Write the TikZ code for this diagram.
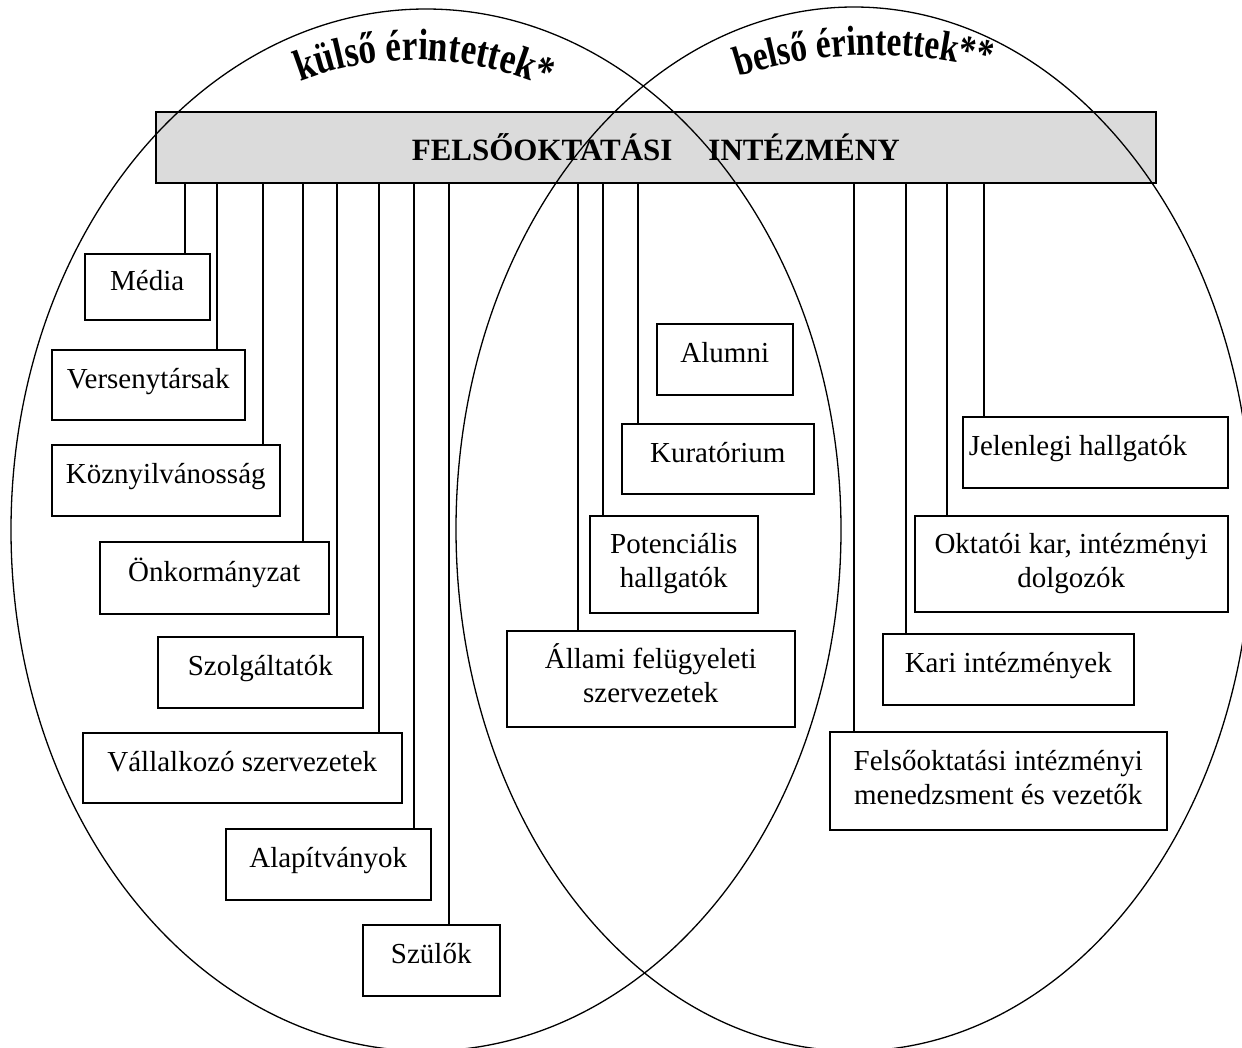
\documentclass[tikz,border=0pt]{standalone}
\usepackage{fontspec}
\setmainfont{Liberation Serif}
\newfontfamily\ivfont[FakeStretch=0.8]{Liberation Serif}
\usetikzlibrary{decorations.text}

\begin{document}
\begin{tikzpicture}[x=1pt,y=-1pt]
	\tikzstyle{egy}=[draw,line width=1.5pt,fill=white,anchor=north west,inner sep=0pt,font=\fontsize{29}{34}\selectfont,text height=20pt,text depth=13pt]
	\tikzstyle{ketto}=[egy,align=center,text height=54pt,text depth=7pt]
	\tikzstyle{sav}=[draw,line width=1.5pt,fill=black!14,anchor=north west,inner sep=0pt,font=\fontsize{31}{34}\selectfont\bfseries]
	\tikzstyle{vonal}=[line width=1.2pt]
	\tikzstyle{ellipszis}=[line width=1.3pt]
	\useasboundingbox (0,0) rectangle (1242,1047);
	\node[sav,minimum width=1000pt,minimum height=71pt] (F) at (155,111){FELSŐOKTATÁSI\hspace{36pt}INTÉZMÉNY};
	% kulso erintettek
	\node[egy,minimum width=125pt,minimum height=66pt] (Me) at (84,253){Média};
	\node[egy,minimum width=193pt,minimum height=70pt] (Ve) at (51,349){Versenytársak};
	\node[egy,minimum width=228pt,minimum height=71pt] (Ko) at (51,444){Köznyilvánosság};
	\node[egy,minimum width=229pt,minimum height=72pt] (On) at (99,541){Önkormányzat};
	\node[egy,minimum width=205pt,minimum height=71pt] (Sz) at (157,636){Szolgáltatók};
	\node[egy,minimum width=319pt,minimum height=70pt] (Va) at (82,732){Vállalkozó szervezetek};
	\node[egy,minimum width=205pt,minimum height=71pt] (Al) at (225,828){Alapítványok};
	\node[egy,minimum width=137pt,minimum height=71pt] (Su) at (362,924){Szülők};
	% belso erintettek
	\node[egy,minimum width=136pt,minimum height=71pt] (Alu) at (656,323){Alumni};
	\node[egy,minimum width=192pt,minimum height=70pt] (Ku) at (621,423){Kuratórium};
	\node[ketto,minimum width=168pt,minimum height=97pt] (Po) at (589,515){Potenciális\\hallgatók};
	\node[ketto,minimum width=288pt,minimum height=96pt] (All) at (506,630){Állami felügyeleti\\szervezetek};
	\node[egy,minimum width=265pt,minimum height=71pt,text width=253pt,align=flush left] (Je) at (962,416){Jelenlegi hallgatók};
	\node[ketto,minimum width=313pt,minimum height=96pt] (Ok) at (914,515){Oktatói kar, intézményi\\dolgozók};
	\node[egy,minimum width=251pt,minimum height=71pt] (Ka) at (882,633){Kari intézmények};
	\node[ketto,minimum width=337pt,minimum height=98pt] (Fe) at (829,731){Felsőoktatási intézményi\\menedzsment és vezetők};
	% vonalak
	\draw[vonal] (F.south -| 185,0) -- (185,0 |- Me.north);
	\draw[vonal] (F.south -| 217,0) -- (217,0 |- Ve.north);
	\draw[vonal] (F.south -| 263,0) -- (263,0 |- Ko.north);
	\draw[vonal] (F.south -| 303,0) -- (303,0 |- On.north);
	\draw[vonal] (F.south -| 337,0) -- (337,0 |- Sz.north);
	\draw[vonal] (F.south -| 379,0) -- (379,0 |- Va.north);
	\draw[vonal] (F.south -| 414,0) -- (414,0 |- Al.north);
	\draw[vonal] (F.south -| 449,0) -- (449,0 |- Su.north);
	\draw[vonal] (F.south -| 578,0) -- (578,0 |- All.north);
	\draw[vonal] (F.south -| 603,0) -- (603,0 |- Po.north);
	\draw[vonal] (F.south -| 638,0) -- (638,0 |- Ku.north);
	\draw[vonal] (F.south -| 854,0) -- (854,0 |- Fe.north);
	\draw[vonal] (F.south -| 906,0) -- (906,0 |- Ka.north);
	\draw[vonal] (F.south -| 947,0) -- (947,0 |- Ok.north);
	\draw[vonal] (F.south -| 984,0) -- (984,0 |- Je.north);
	% ellipszisek
	\draw[ellipszis] (426,530) ellipse [x radius=415,y radius=521];
	\draw[ellipszis] (854,529) ellipse [x radius=398,y radius=522];
	\path[decorate,decoration={text along path,text align=center,text={|\fontsize{44}{44}\ivfont\bfseries|külső érintettek*}}] (275.7,92.4) arc[start angle=-116,end angle=-61,radius=320];
	\path[decorate,decoration={text along path,text align=center,text={|\fontsize{42}{42}\ivfont\bfseries|belső érintettek**}}] (715.5,84.6) arc[start angle=-111,end angle=-72,radius=445];
\end{tikzpicture}
\end{document}
